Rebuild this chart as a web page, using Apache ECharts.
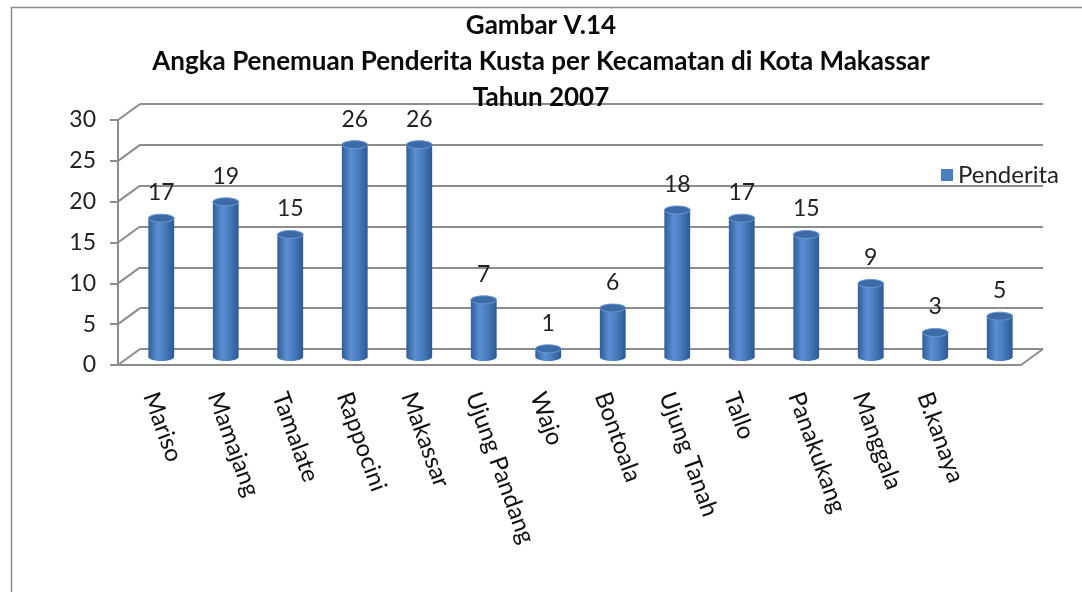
<!DOCTYPE html>
<html>
<head>
<meta charset="utf-8">
<title>Gambar V.14</title>
<script src="https://cdn.jsdelivr.net/npm/echarts@6/dist/echarts.min.js"></script>
<style>
    html, body { margin: 0; padding: 0; background: #fff; }
    #main { width: 1082px; height: 592px; }
</style>
</head>
<body>
<div id="main"></div>
<script>
// data kecamatan (label terakhir kosong di gambar asli)
var kecamatan = ['Mariso', 'Mamajang', 'Tamalate', 'Rappocini', 'Makassar', 'Ujung Pandang', 'Wajo',
    'Bontoala', 'Ujung Tanah', 'Tallo', 'Panakukang', 'Manggala', 'B.kanaya', ''];
var penderita = [17, 19, 15, 26, 26, 7, 1, 6, 18, 17, 15, 9, 3, 5];
var yTicks = [0, 5, 10, 15, 20, 25, 30];

(function () {
    var FONT = 'Lato';
    // kedalaman kotak 3D
    var DX = 22, DY = 16;
    var front = { left: 118, right: 61, top: 120, bottom: 227 };

    var myChart = echarts.init(document.getElementById('main'));

    function gridAt(k) {
        return {
            left: front.left + DX * k,
            right: front.right - DX * k,
            top: front.top - DY * k,
            bottom: front.bottom + DY * k
        };
    }

    var hiddenX = function (idx) {
        return { type: 'category', gridIndex: idx, data: kecamatan, show: false };
    };
    var hiddenY = function (idx, split) {
        return {
            type: 'value', gridIndex: idx, min: 0, max: 30, interval: 5,
            axisLabel: { show: false }, axisLine: { show: false }, axisTick: { show: false },
            splitLine: { show: split, lineStyle: { color: '#8c8c8c', width: 2 } }
        };
    };

    // warna silinder
    var bodyColor = new echarts.graphic.LinearGradient(0, 0, 1, 0, [
        { offset: 0, color: '#2f5d97' },
        { offset: 0.35, color: '#5a8fd3' },
        { offset: 0.6, color: '#4a7fc1' },
        { offset: 1, color: '#2c5a93' }
    ]);

    var option = {
        animation: false,
        title: {
            text: 'Gambar V.14\nAngka Penemuan Penderita Kusta per Kecamatan di Kota Makassar\nTahun 2007',
            left: 'center',
            top: 3,
            padding: [5, 8, 5, 0],
            textStyle: { fontFamily: FONT, fontSize: 26, fontWeight: 'bold', color: '#0a0a0a', lineHeight: 36 }
        },
        graphic: [{
            type: 'rect', left: 9, top: 5, z: -10, silent: true,
            shape: { width: 1200, height: 700 },
            style: { fill: 'none', stroke: '#8c8c8c', lineWidth: 1.5 }
        }],
        legend: {
            data: ['Penderita'],
            left: 936, top: 158,
            icon: 'rect', itemWidth: 12, itemHeight: 12, itemGap: 6,
            textStyle: { fontFamily: FONT, fontSize: 24, color: '#222' }
        },
        grid: [gridAt(0), gridAt(1), gridAt(0.5)],
        xAxis: [
            {
                type: 'category', gridIndex: 0, data: kecamatan,
                axisLine: { lineStyle: { color: '#8c8c8c', width: 2 } },
                axisTick: { length: 8, lineStyle: { color: '#8c8c8c', width: 2 } },
                axisLabel: {
                    rotate: -70, margin: 28, interval: 0,
                    fontFamily: FONT, fontSize: 24, color: '#111'
                }
            },
            hiddenX(1),
            hiddenX(2)
        ],
        yAxis: [
            {
                type: 'value', gridIndex: 0, min: 0, max: 30, interval: 5,
                axisLine: { show: true, lineStyle: { color: '#8c8c8c', width: 2 } },
                axisTick: { show: true, length: 8, lineStyle: { color: '#8c8c8c', width: 2 } },
                axisLabel: { margin: 22, fontFamily: FONT, fontSize: 23, color: '#222' },
                splitLine: { show: false }
            },
            hiddenY(1, true),
            hiddenY(2, false)
        ],
        series: [
            {
                // garis samping dinding dan lantai
                name: 'dinding',
                type: 'custom',
                xAxisIndex: 0, yAxisIndex: 0,
                silent: true, z: 1,
                data: yTicks.map(function (v) { return [0, v]; }),
                renderItem: function (params, api) {
                    var p = api.coord([0, api.value(1)]);
                    var half = api.size([1, 0])[0] / 2;
                    var x0 = p[0] - half;
                    var lines = [{
                        type: 'line',
                        shape: { x1: x0, y1: p[1], x2: x0 + DX, y2: p[1] - DY },
                        style: { stroke: '#8c8c8c', lineWidth: 2 }
                    }];
                    if (api.value(1) === 0) {
                        var q = api.coord([kecamatan.length - 1, 0]);
                        lines.push({
                            type: 'line',
                            shape: { x1: q[0] + half, y1: q[1], x2: q[0] + half + DX, y2: q[1] - DY },
                            style: { stroke: '#8c8c8c', lineWidth: 2 }
                        });
                    }
                    return { type: 'group', children: lines };
                }
            },
            {
                name: 'Penderita',
                type: 'custom',
                xAxisIndex: 2, yAxisIndex: 2,
                z: 5,
                itemStyle: { color: '#4a7ebf' },
                data: penderita.map(function (v, i) { return [i, v]; }),
                renderItem: function (params, api) {
                    var v = api.value(1);
                    var top = api.coord([api.value(0), v]);
                    var base = api.coord([api.value(0), 0]);
                    var w = api.size([1, 0])[0] * 0.4;
                    var rx = w / 2, ry = 4;
                    return {
                        type: 'group',
                        children: [
                            {
                                type: 'ellipse',
                                shape: { cx: base[0], cy: base[1], rx: rx, ry: ry },
                                style: { fill: bodyColor }
                            },
                            {
                                type: 'rect',
                                shape: { x: base[0] - rx, y: top[1], width: w, height: base[1] - top[1] },
                                style: { fill: bodyColor }
                            },
                            {
                                type: 'ellipse',
                                shape: { cx: top[0], cy: top[1], rx: rx, ry: ry },
                                style: { fill: '#3d6ba8', stroke: '#6a98d6', lineWidth: 1 }
                            },
                            {
                                type: 'text',
                                x: top[0], y: top[1] - 14,
                                style: {
                                    text: String(v), fill: '#222',
                                    font: '23px ' + FONT, align: 'center', verticalAlign: 'bottom'
                                }
                            }
                        ]
                    };
                }
            }
        ]
    };

    myChart.setOption(option);
    window.addEventListener('resize', function () {
        myChart.resize();
    });
})();
</script>
</body>
</html>
